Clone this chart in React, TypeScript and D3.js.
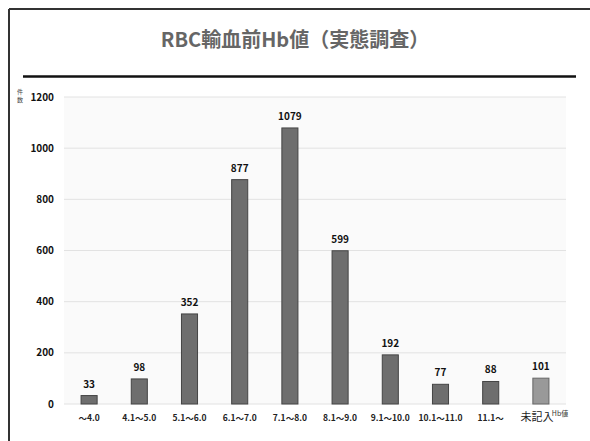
import React from "react";
import * as d3 from "d3";

const categories = ["〜4.0", "4.1〜5.0", "5.1〜6.0", "6.1〜7.0", "7.1〜8.0", "8.1〜9.0", "9.1〜10.0", "10.1〜11.0", "11.1〜", "未記入"];
const values = [33, 98, 352, 877, 1079, 599, 192, 77, 88, 101];
const yTicks = [0, 200, 400, 600, 800, 1000, 1200];
const title = "RBC輸血前Hb値（実態調査）";

export default function App() {
  const W = 590, H = 441;
  const left = 64, right = 566, top = 97, bottom = 404;
  const x = d3.scaleBand<string>().domain(categories).range([left, right]).paddingInner(0.68).paddingOuter(0.34);
  const y = d3.scaleLinear().domain([0, 1200]).range([bottom, top]);
  const font = "'Noto Sans CJK JP', 'Noto Sans', sans-serif";
  return (
    <svg width={W} height={H} style={{ position: "absolute", left: 0, top: 0, background: "#fff" }} fontFamily={font}>
      <line x1={9} y1={9} x2={590} y2={9} stroke="#333" strokeWidth={2} />
      <line x1={9} y1={9} x2={9} y2={441} stroke="#333" strokeWidth={2} />
      <text x={295} y={47} textAnchor="middle" fontSize={20} fontWeight="bold" fill="#666">{title}</text>
      <line x1={23} y1={76.5} x2={576} y2={76.5} stroke="#111" strokeWidth={2.5} />
      <rect x={left} y={top} width={right - left} height={bottom - top} fill="#fafafa" />
      {yTicks.map(t => (
        <g key={t}>
          <line x1={left} x2={right} y1={y(t)} y2={y(t)} stroke="#e2e2e2" strokeWidth={1} />
          <text x={54} y={y(t) + 3.5} textAnchor="end" fontSize={10} fontWeight="bold" fill="#111">{t}</text>
        </g>
      ))}
      <text x={20} y={94} textAnchor="middle" fontSize={6} fill="#444">件</text>
      <text x={20} y={102} textAnchor="middle" fontSize={6} fill="#444">数</text>
      {categories.map((c, i) => {
        const bx = x(c)!;
        const bw = x.bandwidth();
        const last = i === categories.length - 1;
        return (
          <g key={c}>
            <rect x={bx} y={y(values[i])} width={bw} height={bottom - y(values[i])} fill={last ? "#999" : "#6e6e6e"} stroke={last ? "#666" : "#444"} strokeWidth={1} />
            <text x={bx + bw / 2} y={y(values[i]) - 8} textAnchor="middle" fontSize={10} fontWeight="bold" fill="#111">{values[i]}</text>
            <text x={bx + bw / 2 - (last ? 4 : 0)} y={421} textAnchor="middle" fontSize={last ? 11 : 8.5} fontWeight={last ? "normal" : "bold"} fill="#222">{c}</text>
          </g>
        );
      })}
      <text x={560} y={416} textAnchor="middle" fontSize={7} fill="#333">Hb値</text>
    </svg>
  );
}
